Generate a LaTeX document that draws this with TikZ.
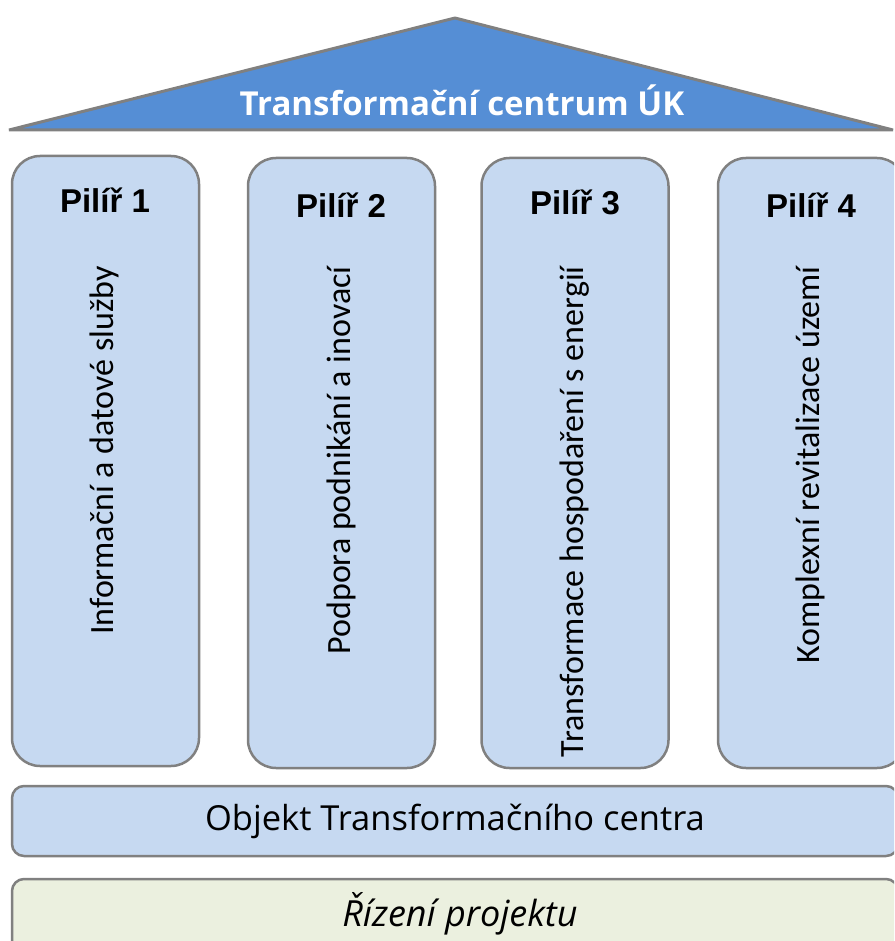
\documentclass[tikz,border=0pt]{standalone}
\usepackage{fontspec}
\setmainfont{Carlito}
\newfontfamily\roofsans{Open Sans}
\newfontfamily\headsans{Liberation Sans}
\usetikzlibrary{positioning}

\definecolor{roofblue}{HTML}{558ED5}
\definecolor{pillarblue}{HTML}{C6D9F1}
\definecolor{basegreen}{HTML}{EBF0DF}
\definecolor{edgegray}{HTML}{808080}

\begin{document}
\begin{tikzpicture}[x=1pt,y=-1pt,line width=2.5pt,
                    pillar/.style={draw=edgegray,fill=pillarblue,rounded corners=28pt,
                                   minimum width=187pt,minimum height=610pt,inner sep=0pt},
                    pillar head/.style={font=\headsans\bfseries\fontsize{33}{38}\selectfont},
                    pillar text/.style={rotate=90,anchor=east,inner sep=0pt,
                                        font=\fontsize{34}{40}\selectfont},
                    bar/.style={draw=edgegray,rounded corners=12pt,inner sep=0pt,
                                minimum width=886pt}]

  \useasboundingbox (0,0) rectangle (894,941);
  \clip (0,0) rectangle (894,941);

  % roof
  \coordinate (roof l) at (9,130);
  \coordinate (roof top) at (455,18);
  \coordinate (roof r) at (893,130);
  \filldraw[fill=roofblue,draw=edgegray,line width=3pt,line join=bevel]
    (roof l) -- (roof top) -- (roof r) -- cycle;
  \node[text=white,font=\roofsans\bfseries\fontsize{33}{38}\selectfont] (title) at (462,100)
    {Transformační centrum ÚK};

  % pillars
  \node[pillar] (p1) at (105.5,461) {};
  \node[pillar] (p2) at (341.5,463) {};
  \node[pillar] (p3) at (575,463) {};
  \node[pillar] (p4) at (811.5,463) {};

  \node[pillar head] (h1) at (105,200) {Pilíř 1};
  \node[pillar head] (h2) at (341,205) {Pilíř 2};
  \node[pillar head] (h3) at (575,202) {Pilíř 3};
  \node[pillar head] (h4) at (811,205) {Pilíř 4};

  \node[pillar text] (t1) at (104,265) {Informační a datové služby};
  \node[pillar text] (t2) at (341,265) {Podpora podnikání a inovací};
  \node[pillar text] (t3) at (575,265) {Transformace hospodaření s energií};
  \node[pillar text] (t4) at (810,265) {Komplexní revitalizace území};

  % base
  \node[bar,fill=pillarblue,minimum height=70pt,
        font=\roofsans\fontsize{34.5}{40}\selectfont] (object) at (455,821)
    {Objekt Transformačního centra};
  \node[bar,fill=basegreen,minimum height=81pt] (control) at (455,919.5) {};
  \node[font=\roofsans\itshape\fontsize{36}{42}\selectfont] (control text) at (460,914)
    {Řízení projektu};
\end{tikzpicture}
\end{document}
